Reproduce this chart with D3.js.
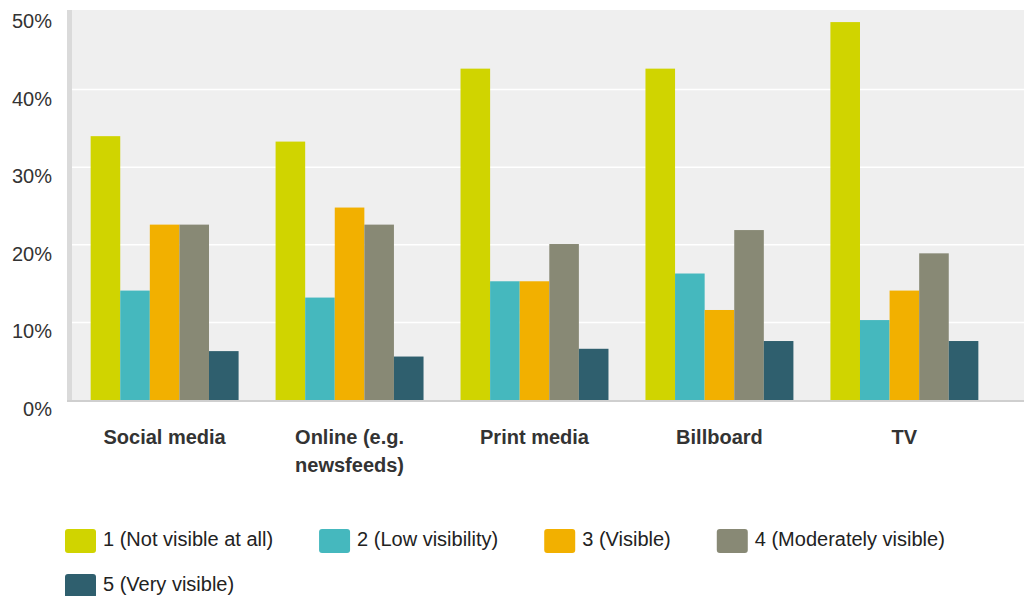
<!DOCTYPE html>
<html>
<head>
<meta charset="utf-8">
<script src="https://cdn.jsdelivr.net/npm/d3@7"></script>
<style>
  body { margin: 0; background: #fff; }
  svg { display: block; font-family: "Liberation Sans", Arial, sans-serif; }
  .tick-label { font-size: 20px; fill: #333; }
  .cat-label { font-size: 20px; font-weight: bold; fill: #333; }
  .legend-label { font-size: 20px; fill: #222; }
</style>
</head>
<body>
<div id="chart"></div>
<script>
const W = 1029;
const H = 596;

const categories = [['Social media'], ['Online (e.g.', 'newsfeeds)'], ['Print media'], ['Billboard'], ['TV']];
const seriesNames = ['1 (Not visible at all)', '2 (Low visibility)', '3 (Visible)', '4 (Moderately visible)', '5 (Very visible)'];
const colors = ['#d0d400', '#45b8be', '#f2b000', '#888975', '#2f5f6e'];

// percent per category, one array per series
const notVisible = [34.0, 33.3, 42.7, 42.7, 48.7];
const lowVisibility = [14.1, 13.2, 15.3, 16.3, 10.3];
const visible = [22.6, 24.8, 15.3, 11.6, 14.1];
const moderately = [22.6, 22.6, 20.1, 21.9, 18.9];
const veryVisible = [6.3, 5.6, 6.6, 7.6, 7.6];
const series = [notVisible, lowVisibility, visible, moderately, veryVisible];

const yTicks = [0, 10, 20, 30, 40, 50];

const plot = { left: 70, right: 1024, top: 12, bottom: 400 };

const svg = d3.select('#chart').append('svg').attr('width', W).attr('height', H);

const x = d3.scaleBand()
	.domain(d3.range(categories.length))
	.range([74, 995])
	.paddingInner(0.2)
	.paddingOuter(0.09);
const xs = d3.scaleBand().domain(d3.range(series.length)).range([0, x.bandwidth()]);
const y = d3.scaleLinear().domain([0, 50]).range([plot.bottom, plot.top]);

// plot background
svg.append('rect')
	.attr('x', plot.left - 3).attr('y', plot.top - 2)
	.attr('width', plot.right - plot.left + 3).attr('height', plot.bottom - plot.top + 2)
	.attr('fill', '#efefef');

// gridlines
svg.append('g')
	.selectAll('line')
	.data(yTicks.slice(1, -1))
	.join('line')
	.attr('x1', plot.left).attr('x2', plot.right)
	.attr('y1', d => y(d)).attr('y2', d => y(d))
	.attr('stroke', '#fff').attr('stroke-width', 1.5);

// left axis strip and bottom line
svg.append('rect')
	.attr('x', plot.left - 3).attr('y', plot.top - 2)
	.attr('width', 5).attr('height', plot.bottom - plot.top + 3)
	.attr('fill', '#dadada');
svg.append('line')
	.attr('x1', plot.left - 3).attr('x2', plot.right)
	.attr('y1', plot.bottom + 1).attr('y2', plot.bottom + 1)
	.attr('stroke', '#cfcfcf').attr('stroke-width', 2);

// y tick labels
svg.append('g')
	.selectAll('text')
	.data(yTicks)
	.join('text')
	.attr('class', 'tick-label')
	.attr('x', 52)
	.attr('y', d => y(d) + 9)
	.attr('dy', '0.35em')
	.attr('text-anchor', 'end')
	.text(d => d + '%');

// bars
svg.append('g')
	.selectAll('g')
	.data(series)
	.join('g')
	.attr('fill', (d, i) => colors[i])
	.each((vals, si, nodes) => {
		d3.select(nodes[si])
			.selectAll('rect')
			.data(vals)
			.join('rect')
			.attr('x', (v, ci) => x(ci) + xs(si))
			.attr('width', xs.bandwidth())
			.attr('y', v => y(v))
			.attr('height', v => y(0) - y(v));
	});

// category labels
svg.append('g')
	.selectAll('text')
	.data(categories)
	.join('text')
	.attr('class', 'cat-label')
	.attr('x', (d, i) => x(i) + x.bandwidth() / 2)
	.attr('y', 444)
	.attr('text-anchor', 'middle')
	.each((lines, i, nodes) => {
		d3.select(nodes[i])
			.selectAll('tspan')
			.data(lines)
			.join('tspan')
			.attr('x', x(i) + x.bandwidth() / 2)
			.attr('dy', (l, j) => (j === 0 ? 0 : 28))
			.text(l => l);
	});

// legend
const legend = svg.append('g');
const SW = 31, SH = 24, GAP = 46;
let lx = 65, ly = 529;
seriesNames.forEach((name, i) => {
	if (i === 4) { lx = 65; ly = 574; }
	const item = legend.append('g').attr('transform', `translate(${lx},${ly})`);
	item.append('rect')
		.attr('width', SW).attr('height', SH)
		.attr('rx', 3)
		.attr('fill', colors[i]);
	const t = item.append('text')
		.attr('class', 'legend-label')
		.attr('x', SW + 7)
		.attr('y', SH / 2 - 2)
		.attr('dy', '0.35em')
		.text(name);
	lx += SW + 7 + t.node().getComputedTextLength() + GAP;
});
</script>
</body>
</html>
